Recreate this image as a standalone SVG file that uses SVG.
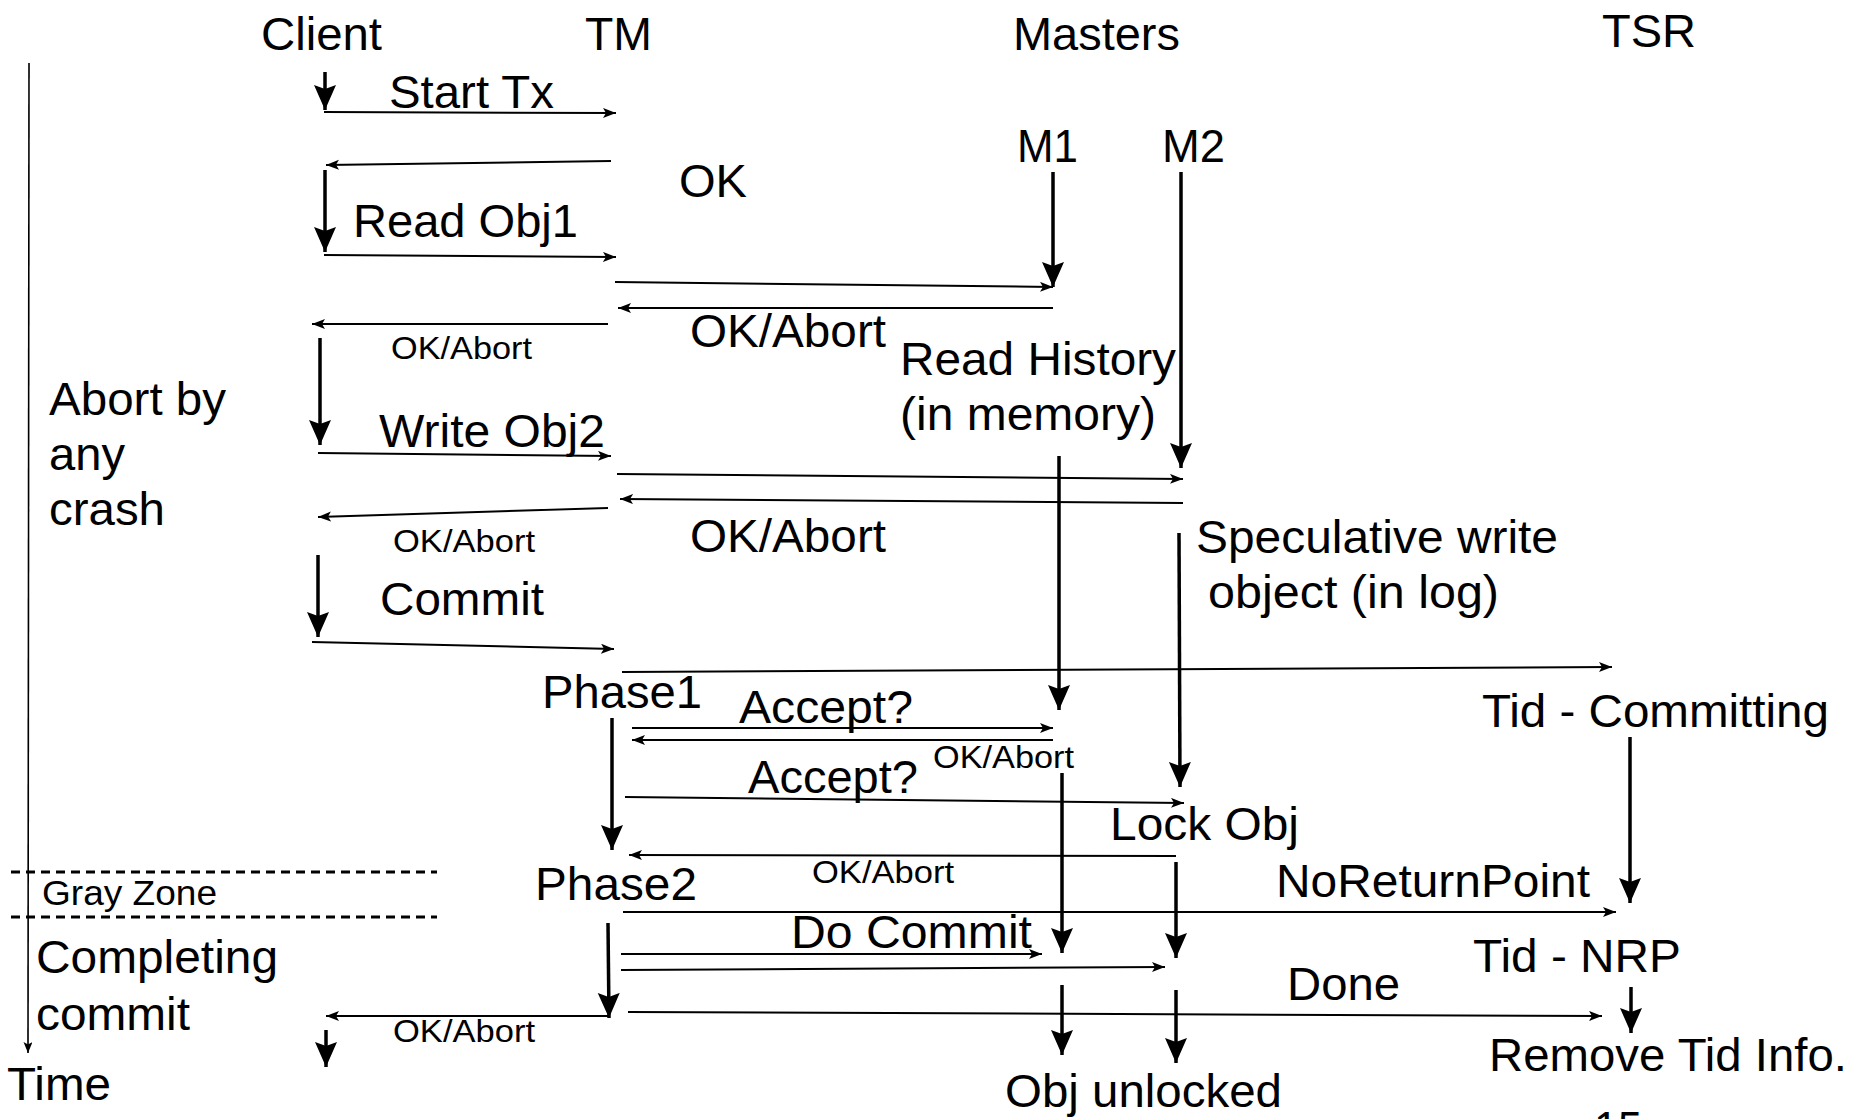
<svg xmlns="http://www.w3.org/2000/svg" width="1856" height="1119" viewBox="0 0 1856 1119">
<defs>
<marker id="thin" markerUnits="userSpaceOnUse" markerWidth="14" markerHeight="12" refX="13" refY="5" orient="auto">
<path d="M0,0 L13,5 L0,10 L3,5 z" fill="#000"/>
</marker>
<marker id="thick" markerUnits="userSpaceOnUse" markerWidth="26" markerHeight="24" refX="25" refY="11" orient="auto">
<path d="M0,0 L25,11 L0,22 L4,11 z" fill="#000"/>
</marker>
<marker id="axis" markerUnits="userSpaceOnUse" markerWidth="12" markerHeight="10" refX="11" refY="4.5" orient="auto">
<path d="M0,0 L11,4.5 L0,9 L2.5,4.5 z" fill="#000"/>
</marker>
<style>
text{font-family:"Liberation Sans",Arial,sans-serif;fill:#000}
.b{font-size:46px}
.s{font-size:31px}
.g{font-size:35px}
.m{stroke:#000;stroke-width:2;fill:none;marker-end:url(#thin)}
.t{stroke:#000;stroke-width:3.5;fill:none;marker-end:url(#thick)}
.ax{stroke:#000;stroke-width:1.6;fill:none;marker-end:url(#axis)}
.d{stroke:#000;stroke-width:3;stroke-dasharray:9 6;fill:none}
</style>
</defs>
<rect width="1856" height="1119" fill="#fff"/>
<g id="connectors">
<line class="ax" x1="29" y1="63" x2="28" y2="1053"/>
<line class="d" x1="11" y1="872" x2="437" y2="872"/>
<line class="d" x1="11" y1="917" x2="437" y2="917"/>
<line class="m" x1="324" y1="112" x2="616" y2="113"/>
<line class="m" x1="611" y1="161" x2="326" y2="165"/>
<line class="m" x1="324" y1="255" x2="616" y2="257"/>
<line class="m" x1="615" y1="282" x2="1053" y2="287"/>
<line class="m" x1="1053" y1="308" x2="618" y2="308"/>
<line class="m" x1="608" y1="324" x2="312" y2="324"/>
<line class="m" x1="318" y1="453" x2="611" y2="456"/>
<line class="m" x1="617" y1="474" x2="1183" y2="479"/>
<line class="m" x1="1183" y1="503" x2="620" y2="499"/>
<line class="m" x1="608" y1="508" x2="318" y2="517"/>
<line class="m" x1="312" y1="642" x2="614" y2="649"/>
<line class="m" x1="622" y1="672" x2="1612" y2="667"/>
<line class="m" x1="632" y1="728" x2="1053" y2="728"/>
<line class="m" x1="1053" y1="740" x2="632" y2="740"/>
<line class="m" x1="625" y1="797" x2="1184" y2="803"/>
<line class="m" x1="1176" y1="856" x2="629" y2="855"/>
<line class="m" x1="623" y1="912" x2="1616" y2="912"/>
<line class="m" x1="621" y1="954" x2="1042" y2="954"/>
<line class="m" x1="621" y1="970" x2="1165" y2="967"/>
<line class="m" x1="628" y1="1012" x2="1602" y2="1016"/>
<line class="m" x1="608" y1="1016" x2="326" y2="1016"/>
<line class="t" x1="325" y1="72" x2="325" y2="110"/>
<line class="t" x1="325" y1="170" x2="325" y2="252"/>
<line class="t" x1="320" y1="338" x2="320" y2="445"/>
<line class="t" x1="318" y1="555" x2="318" y2="637"/>
<line class="t" x1="326" y1="1030" x2="326" y2="1067"/>
<line class="t" x1="1053" y1="172" x2="1053" y2="287"/>
<line class="t" x1="1181" y1="172" x2="1181" y2="468"/>
<line class="t" x1="1059" y1="456" x2="1059" y2="710"/>
<line class="t" x1="1179" y1="533" x2="1180" y2="787"/>
<line class="t" x1="612" y1="718" x2="612" y2="850"/>
<line class="t" x1="1062" y1="773" x2="1062" y2="953"/>
<line class="t" x1="1176" y1="862" x2="1176" y2="958"/>
<line class="t" x1="1630" y1="737" x2="1630" y2="903"/>
<line class="t" x1="608" y1="923" x2="609" y2="1018"/>
<line class="t" x1="1062" y1="985" x2="1062" y2="1055"/>
<line class="t" x1="1176" y1="990" x2="1176" y2="1063"/>
<line class="t" x1="1631" y1="987" x2="1631" y2="1033"/>
</g>
<g id="client"><text class="b" x="261" y="50" textLength="121" lengthAdjust="spacingAndGlyphs">Client</text></g>
<g id="tm"><text class="b" x="585" y="50" textLength="67" lengthAdjust="spacingAndGlyphs">TM</text></g>
<g id="masters"><text class="b" x="1013" y="50" textLength="167" lengthAdjust="spacingAndGlyphs">Masters</text></g>
<g id="tsr"><text class="b" x="1602" y="47" textLength="94" lengthAdjust="spacingAndGlyphs">TSR</text></g>
<g id="m1"><text class="b" x="1017" y="162" textLength="61" lengthAdjust="spacingAndGlyphs">M1</text></g>
<g id="m2"><text class="b" x="1162" y="162" textLength="63" lengthAdjust="spacingAndGlyphs">M2</text></g>
<g id="time"><text class="b" x="7" y="1100" textLength="104" lengthAdjust="spacingAndGlyphs">Time</text></g>
<g id="abort-by-crash">
<text class="b" x="49" y="415" textLength="177" lengthAdjust="spacingAndGlyphs">Abort by</text>
<text class="b" x="49" y="470" textLength="76" lengthAdjust="spacingAndGlyphs">any</text>
<text class="b" x="49" y="525" textLength="116" lengthAdjust="spacingAndGlyphs">crash</text>
</g>
<g id="gray-zone"><text class="g" x="42" y="905" textLength="175" lengthAdjust="spacingAndGlyphs">Gray Zone</text></g>
<g id="completing-commit">
<text class="b" x="36" y="973" textLength="242" lengthAdjust="spacingAndGlyphs">Completing</text>
<text class="b" x="36" y="1030" textLength="154" lengthAdjust="spacingAndGlyphs">commit</text>
</g>
<g id="labels">
<text class="b" x="389" y="108" textLength="165" lengthAdjust="spacingAndGlyphs">Start Tx</text>
<text class="b" x="679" y="197" textLength="68" lengthAdjust="spacingAndGlyphs">OK</text>
<text class="b" x="353" y="237" textLength="225" lengthAdjust="spacingAndGlyphs">Read Obj1</text>
<text class="b" x="690" y="347" textLength="196" lengthAdjust="spacingAndGlyphs">OK/Abort</text>
<text class="s" x="391" y="359" textLength="141" lengthAdjust="spacingAndGlyphs">OK/Abort</text>
<text class="b" x="379" y="447" textLength="226" lengthAdjust="spacingAndGlyphs">Write Obj2</text>
<text class="b" x="690" y="552" textLength="196" lengthAdjust="spacingAndGlyphs">OK/Abort</text>
<text class="s" x="393" y="552" textLength="142" lengthAdjust="spacingAndGlyphs">OK/Abort</text>
<text class="b" x="380" y="615" textLength="164" lengthAdjust="spacingAndGlyphs">Commit</text>
<text class="b" x="739" y="723" textLength="174" lengthAdjust="spacingAndGlyphs">Accept?</text>
<text class="s" x="933" y="768" textLength="141" lengthAdjust="spacingAndGlyphs">OK/Abort</text>
<text class="b" x="748" y="793" textLength="170" lengthAdjust="spacingAndGlyphs">Accept?</text>
<text class="s" x="812" y="883" textLength="142" lengthAdjust="spacingAndGlyphs">OK/Abort</text>
<text class="b" x="1276" y="897" textLength="314" lengthAdjust="spacingAndGlyphs">NoReturnPoint</text>
<text class="b" x="791" y="948" textLength="241" lengthAdjust="spacingAndGlyphs">Do Commit</text>
<text class="b" x="1287" y="1000" textLength="113" lengthAdjust="spacingAndGlyphs">Done</text>
<text class="s" x="393" y="1042" textLength="142" lengthAdjust="spacingAndGlyphs">OK/Abort</text>
</g>
<g id="phase1"><text class="b" x="542" y="708" textLength="160" lengthAdjust="spacingAndGlyphs">Phase1</text></g>
<g id="phase2"><text class="b" x="535" y="900" textLength="162" lengthAdjust="spacingAndGlyphs">Phase2</text></g>
<g id="read-history">
<text class="b" x="900" y="375" textLength="276" lengthAdjust="spacingAndGlyphs">Read History</text>
<text class="b" x="900" y="430" textLength="256" lengthAdjust="spacingAndGlyphs">(in memory)</text>
</g>
<g id="speculative-write">
<text class="b" x="1196" y="553" textLength="362" lengthAdjust="spacingAndGlyphs">Speculative write</text>
<text class="b" x="1208" y="608" textLength="291" lengthAdjust="spacingAndGlyphs">object (in log)</text>
</g>
<g id="lock-obj"><text class="b" x="1110" y="840" textLength="189" lengthAdjust="spacingAndGlyphs">Lock Obj</text></g>
<g id="obj-unlocked"><text class="b" x="1005" y="1107" textLength="277" lengthAdjust="spacingAndGlyphs">Obj unlocked</text></g>
<g id="tid-committing"><text class="b" x="1482" y="727" textLength="347" lengthAdjust="spacingAndGlyphs">Tid - Committing</text></g>
<g id="tid-nrp"><text class="b" x="1473" y="972" textLength="208" lengthAdjust="spacingAndGlyphs">Tid - NRP</text></g>
<g id="remove-tid"><text class="b" x="1489" y="1071" textLength="358" lengthAdjust="spacingAndGlyphs">Remove Tid Info.</text></g>
<g id="page-number"><text class="b" x="1594" y="1144" textLength="48" lengthAdjust="spacingAndGlyphs">15</text></g>
</svg>
